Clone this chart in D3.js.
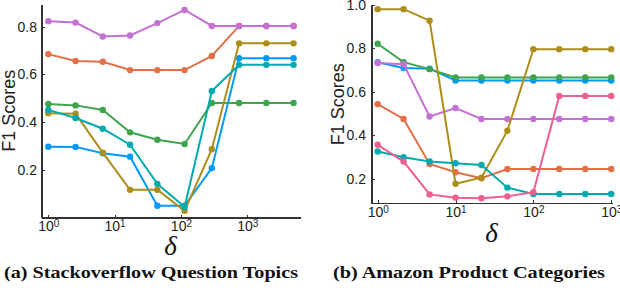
<!DOCTYPE html>
<html lang="en">
	<head>
		<meta charset="utf-8">
		<title>F1 vs delta</title>
		<script type="text/javascript" src="https://d3js.org/d3.v7.min.js"></script>
		<style type="text/css">
        body {
          margin: 0;
          background: white;
        }
        .axis path,
        .axis line {
          fill: none;
          stroke: #333;
          shape-rendering: crispEdges;
        }
        .y.axis path { stroke-width: 2; }
        .x.axis path { stroke-width: 1.2; }
        .axis text {
          font-family: "Liberation Sans", Arial, sans-serif;
          font-size: 14px;
          fill: #222;
        }
        .ylabel {
          font-family: "Liberation Sans", Arial, sans-serif;
          font-size: 18px;
          fill: #222;
        }
        .delta {
          font-family: "Liberation Serif", "DejaVu Serif", serif;
          font-style: italic;
          font-size: 27px;
          fill: #111;
        }
        .caption {
          font-family: "Liberation Serif", "DejaVu Serif", serif;
          font-weight: bold;
          font-size: 17px;
          fill: #111;
        }
		</style>
	</head>
	<body>
		<script type="text/javascript">
var w = 620;
var h = 288;

// Julia Plots default palette
var colBlue = "#009AFA";
var colOrange = "#E36F47";
var colGreen = "#3EA44E";
var colPurple = "#C371D2";
var colOlive = "#AC8E18";
var colTeal = "#00AAAE";
var colPink = "#ED5E93";

// (a) Stackoverflow Question Topics
var deltaA = [1, 2.58, 6.64, 17.1, 44.1, 113.6, 292.6, 754, 1942, 5000];
var blueA   = [0.297, 0.296, 0.269, 0.255, 0.049, 0.049, 0.207, 0.668, 0.668, 0.668];
var orangeA = [0.685, 0.656, 0.653, 0.618, 0.618, 0.618, 0.677, 0.803, 0.803, 0.803];
var greenA  = [0.476, 0.470, 0.451, 0.357, 0.326, 0.308, 0.480, 0.480, 0.480, 0.480];
var purpleA = [0.823, 0.817, 0.759, 0.763, 0.815, 0.870, 0.803, 0.803, 0.803, 0.803];
var oliveA  = [0.437, 0.435, 0.272, 0.116, 0.116, 0.028, 0.286, 0.730, 0.730, 0.730];
var tealA   = [0.451, 0.417, 0.372, 0.305, 0.141, 0.044, 0.530, 0.640, 0.640, 0.640];
var yTicksA = [0.2, 0.4, 0.6, 0.8];

// (b) Amazon Product Categories
var deltaB = [1, 2.15, 4.64, 10, 21.5, 46.4, 100, 215, 464, 1000];
var blueB   = [0.737, 0.710, 0.707, 0.653, 0.653, 0.653, 0.653, 0.653, 0.653, 0.653];
var orangeB = [0.544, 0.476, 0.269, 0.231, 0.203, 0.246, 0.246, 0.246, 0.246, 0.246];
var greenB  = [0.822, 0.737, 0.705, 0.667, 0.667, 0.667, 0.667, 0.667, 0.667, 0.667];
var purpleB = [0.733, 0.728, 0.487, 0.526, 0.476, 0.476, 0.476, 0.476, 0.476, 0.476];
var oliveB  = [0.981, 0.981, 0.928, 0.178, 0.206, 0.422, 0.797, 0.797, 0.797, 0.797];
var tealB   = [0.326, 0.300, 0.280, 0.272, 0.264, 0.160, 0.131, 0.131, 0.131, 0.131];
var pinkB   = [0.357, 0.280, 0.129, 0.114, 0.111, 0.120, 0.139, 0.582, 0.582, 0.582];
var yTicksB = [0.2, 0.4, 0.6, 0.8, 1.0];

var xTicks = [1, 10, 100, 1000];

var svg = d3.select("body")
            .append("svg")
            .attr("width", w)
            .attr("height", h);

function drawPanel(p) {
    var xScale = d3.scaleLog()
                   .domain(p.xDomain)
                   .range([p.left, p.right]);
    var yScale = d3.scaleLinear()
                   .domain(p.yDomain)
                   .range([p.bottom, p.top]);

    var g = svg.append("g");

    //Create X axis
    var xAxis = d3.axisBottom(xScale)
                  .tickValues(xTicks)
                  .tickSizeInner(-3)
                  .tickSizeOuter(0)
                  .tickPadding(p.xPad);
    var gx = g.append("g")
        .attr("class", "x axis")
        .attr("transform", "translate(0," + p.bottom + ")")
        .call(xAxis);
    gx.selectAll(".tick text").each(function(d) {
        var t = d3.select(this).text(null);
        t.append("tspan").text("10");
        t.append("tspan")
            .attr("dy", "-0.45em")
            .style("font-size", "10px")
            .text(Math.round(Math.log10(d)));
    });

    //Create Y axis
    var yAxis = d3.axisLeft(yScale)
                  .tickValues(p.yTicks)
                  .tickSizeInner(-4)
                  .tickSizeOuter(0)
                  .tickPadding(p.yPad)
                  .tickFormat(d3.format(".1f"));
    g.append("g")
        .attr("class", "y axis")
        .attr("transform", "translate(" + p.left + ",0)")
        .call(yAxis);
    g.selectAll(".axis .domain").raise();

    var line = d3.line()
                 .x(function(d) { return xScale(d[0]); })
                 .y(function(d) { return yScale(d[1]); });

    p.series.forEach(function(s) {
        var pts = p.x.map(function(x, i) { return [x, s.values[i]]; });
        g.append("path")
            .datum(pts)
            .attr("fill", "none")
            .attr("stroke", s.color)
            .attr("stroke-width", 2)
            .attr("d", line);
        g.selectAll(null)
            .data(pts)
            .enter()
            .append("circle")
            .attr("cx", function(d) { return xScale(d[0]); })
            .attr("cy", function(d) { return yScale(d[1]); })
            .attr("r", 3.2)
            .attr("fill", s.color);
    });

    // y label
    g.append("text")
        .attr("class", "ylabel")
        .attr("transform", "translate(" + p.yLabelX + "," + ((p.top + p.bottom) / 2) + ") rotate(-90)")
        .style("text-anchor", "middle")
        .text("F1 Scores");

    // x label
    g.append("text")
        .attr("class", "delta")
        .attr("x", (p.left + p.right) / 2)
        .attr("y", p.deltaY)
        .style("text-anchor", "middle")
        .text("δ");

    // caption
    g.append("text")
        .attr("class", "caption")
        .attr("x", p.capX)
        .attr("y", 278)
        .attr("textLength", p.capW)
        .attr("lengthAdjust", "spacingAndGlyphs")
        .text(p.caption);
}

drawPanel({
    left: 41, right: 300, top: 4, bottom: 217.5,
    xDomain: [Math.pow(10, -0.11), Math.pow(10, 3.796)],
    yDomain: [0, 0.895],
    yTicks: yTicksA, xPad: 4, yPad: 4,
    x: deltaA,
    series: [
        {color: colBlue, values: blueA},
        {color: colOrange, values: orangeA},
        {color: colGreen, values: greenA},
        {color: colPurple, values: purpleA},
        {color: colOlive, values: oliveA},
        {color: colTeal, values: tealA}
    ],
    yLabelX: 15, deltaY: 255,
    caption: "(a) Stackoverflow Question Topics", capX: 4, capW: 294
});

drawPanel({
    left: 371, right: 612, top: 5, bottom: 203.3,
    xDomain: [Math.pow(10, -0.086), Math.pow(10, 3.01)],
    yDomain: [0.088, 1.0],
    yTicks: yTicksB, xPad: 4, yPad: 5,
    x: deltaB,
    series: [
        {color: colBlue, values: blueB},
        {color: colOrange, values: orangeB},
        {color: colGreen, values: greenB},
        {color: colPurple, values: purpleB},
        {color: colOlive, values: oliveB},
        {color: colTeal, values: tealB},
        {color: colPink, values: pinkB}
    ],
    yLabelX: 344, deltaY: 242,
    caption: "(b) Amazon Product Categories", capX: 333, capW: 272
});
		</script>
	</body>
</html>
